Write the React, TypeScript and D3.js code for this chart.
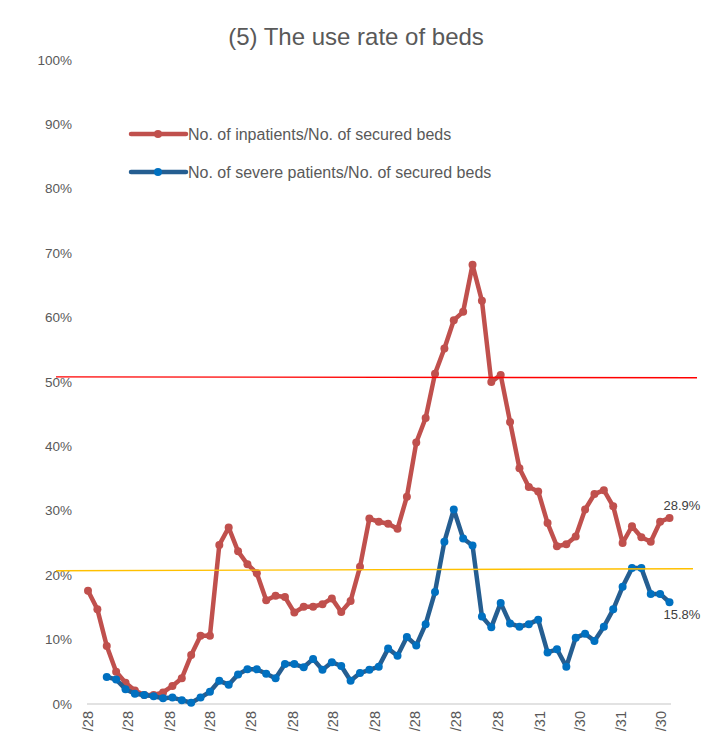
import React from 'react';
import * as d3 from 'd3';

// ---- data ----
const firstWeek = '2020-04-28';
const inpatientRate: number[] = [
  17.6, 14.7, 9.0, 5.0, 3.3, 2.1, 1.4, 1.4, 1.8, 2.8,
  4.0, 7.6, 10.6, 10.6, 24.7, 27.4, 23.7, 21.7, 20.3, 16.1,
  16.8, 16.6, 14.2, 15.1, 15.1, 15.5, 16.4, 14.3, 16.0, 21.3,
  28.8, 28.3, 28.0, 27.2, 32.2, 40.6, 44.4, 51.3, 55.2, 59.6,
  60.9, 68.2, 62.6, 50.0, 51.1, 43.8, 36.6, 33.7, 33.0, 28.1,
  24.5, 24.8, 26.0, 30.2, 32.6, 33.2, 30.7, 25.0, 27.6, 25.9,
  25.2, 28.3, 28.9,
];
const severeRate: (number | null)[] = [
  null, null, 4.2, 3.8, 2.3, 1.6, 1.4, 1.2, 0.9, 1.0,
  0.6, 0.2, 1.0, 1.9, 3.6, 3.0, 4.6, 5.4, 5.4, 4.7,
  4.0, 6.2, 6.2, 5.7, 7.0, 5.3, 6.5, 5.9, 3.6, 4.8,
  5.3, 5.8, 8.6, 7.5, 10.4, 9.1, 12.4, 17.4, 25.2, 30.2,
  25.7, 24.6, 13.6, 11.9, 15.7, 12.5, 12.0, 12.4, 13.1, 8.0,
  8.5, 5.8, 10.3, 10.9, 9.8, 12.0, 14.7, 18.2, 21.1, 21.1,
  17.1, 17.1, 15.8,
];
const tickDates = [
  '2020-04-28', '2020-05-28', '2020-06-28', '2020-07-28', '2020-08-28',
  '2020-09-28', '2020-10-28', '2020-11-28', '2020-12-28', '2021-01-28',
  '2021-02-28', '2021-03-31', '2021-04-30', '2021-05-31', '2021-06-30',
];
const yTicks = [0, 10, 20, 30, 40, 50, 60, 70, 80, 90, 100];
const seriesNames = [
  'No. of inpatients/No. of secured beds',
  'No. of severe patients/No. of secured beds',
];
const refStart = [50.8, 20.7];
const refEnd = [50.65, 21.0];
const title = '(5) The use rate of beds';

// ---- layout ----
const W = 707;
const H = 736;
const plotLeft = 88;
const plotRight = 669.5;
const plotTop = 60;
const plotBottom = 704;
const refX0 = [56, 56];
const refX1 = [697, 693];
const refColors = ['#FF0000', '#FFC000'];
const redColor = '#C0504D';
const blueLine = '#255E91';
const blueMarker = '#0070C0';
const textColor = '#595959';
const font = '"Liberation Sans", Arial, sans-serif';

export default function App() {
  const parse = d3.utcParse('%Y-%m-%d');
  const start = parse(firstWeek) as Date;
  const dates = inpatientRate.map((_, i) => d3.utcDay.offset(start, 7 * i));
  const x = d3.scaleUtc().domain([dates[0], dates[dates.length - 1]]).range([plotLeft, plotRight]);
  const y = d3.scaleLinear().domain([0, 100]).range([plotBottom, plotTop]);
  const fmt = d3.utcFormat('/%d');

  type Pt = { d: Date; v: number };
  const redPts: Pt[] = inpatientRate.map((v, i) => ({ d: dates[i], v }));
  const bluePts: Pt[] = severeRate
    .map((v, i) => ({ d: dates[i], v: v as number, ok: v != null }))
    .filter((p) => p.ok)
    .map(({ d, v }) => ({ d, v }));
  const line = d3
    .line<Pt>()
    .x((p) => x(p.d))
    .y((p) => y(p.v));

  const series = [
    { pts: redPts, stroke: redColor, marker: redColor },
    { pts: bluePts, stroke: blueLine, marker: blueMarker },
  ];

  const lastRed = redPts[redPts.length - 1];
  const lastBlue = bluePts[bluePts.length - 1];

  return (
    <div style={{ position: 'absolute', left: 0, top: 0 }}>
      <svg width={W} height={H} style={{ display: 'block', background: '#fff' }} fontFamily={font}>
        <text x={356} y={45} textAnchor="middle" fontSize={24} fill={textColor}>
          {title}
        </text>

        {yTicks.map((t) => (
          <text key={t} x={72} y={y(t)} textAnchor="end" dominantBaseline="central" fontSize={13.5} fill={textColor}>
            {t + '%'}
          </text>
        ))}

        <line x1={plotLeft - 1} x2={plotRight + 1.5} y1={plotBottom} y2={plotBottom} stroke="#D9D9D9" strokeWidth={1.3} />

        {tickDates.map((s) => {
          const d = parse(s) as Date;
          const tx = x(d);
          return (
            <text
              key={s}
              transform={`translate(${tx},${plotBottom + 7}) rotate(-90)`}
              textAnchor="end"
              dominantBaseline="central"
              fontSize={14.5}
              fill={textColor}
            >
              {fmt(d)}
            </text>
          );
        })}

        {series.map((s, k) => (
          <g key={k}>
            <path d={line(s.pts) || ''} fill="none" stroke={s.stroke} strokeWidth={4.5} strokeLinejoin="round" strokeLinecap="round" />
            {s.pts.map((p, i) => (
              <circle key={i} cx={x(p.d)} cy={y(p.v)} r={4} fill={s.marker} />
            ))}
          </g>
        ))}

        {refStart.map((v, i) => (
          <line key={i} x1={refX0[i]} x2={refX1[i]} y1={y(v)} y2={y(refEnd[i])} stroke={refColors[i]} strokeWidth={1.4} />
        ))}

        <text x={x(lastRed.d) - 6} y={y(lastRed.v) - 8} fontSize={13} fill="#404040">
          {lastRed.v.toFixed(1) + '%'}
        </text>
        <text x={x(lastBlue.d) - 6} y={y(lastBlue.v) + 17} fontSize={13} fill="#404040">
          {lastBlue.v.toFixed(1) + '%'}
        </text>

        {seriesNames.map((name, i) => {
          const ly = 134 + i * 38;
          return (
            <g key={name}>
              <line x1={131} x2={186} y1={ly} y2={ly} stroke={series[i].stroke} strokeWidth={4.5} strokeLinecap="round" />
              <circle cx={158} cy={ly} r={4} fill={series[i].marker} />
              <text x={188} y={ly} dominantBaseline="central" fontSize={16} fill={textColor}>
                {name}
              </text>
            </g>
          );
        })}
      </svg>
    </div>
  );
}
